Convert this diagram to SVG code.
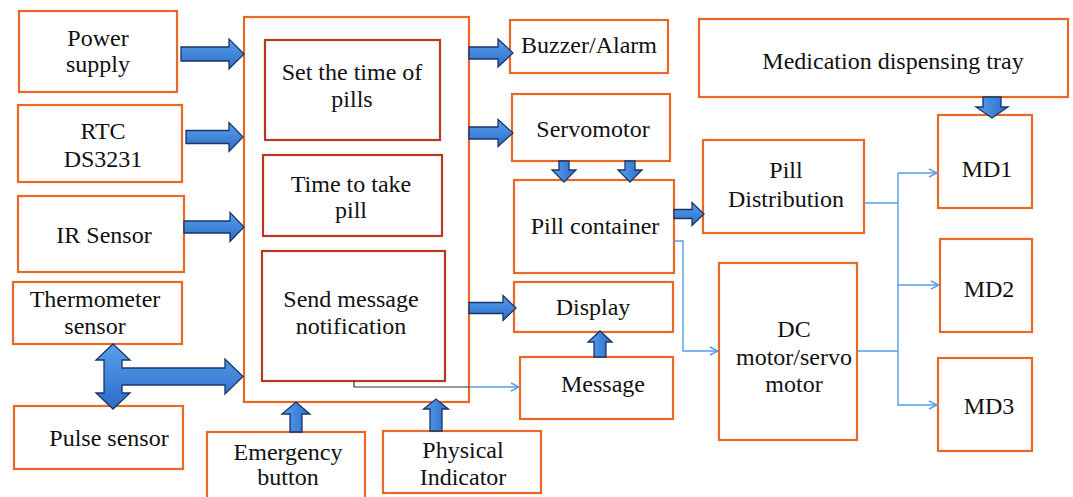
<svg xmlns="http://www.w3.org/2000/svg" width="1073" height="497" viewBox="0 0 1073 497">
<defs>
<linearGradient id="bg" x1="0" y1="0" x2="0" y2="1">
<stop offset="0" stop-color="#5AA0EC"/>
<stop offset="1" stop-color="#2B6CC8"/>
</linearGradient>
<linearGradient id="bgv" x1="0" y1="0" x2="1" y2="0">
<stop offset="0" stop-color="#5AA0EC"/>
<stop offset="1" stop-color="#2B6CC8"/>
</linearGradient>
<marker id="ah" viewBox="0 0 10 10" refX="9" refY="5" markerWidth="10" markerHeight="10" markerUnits="userSpaceOnUse" orient="auto">
<path d="M1,1 L9,5 L1,9" fill="none" stroke="#5B9BE6" stroke-width="1.4"/>
</marker>
</defs>
<style>
.box{fill:#fff;stroke:#E66A25;stroke-width:2.2}
.inner{fill:#fff;stroke:#B83A24;stroke-width:2.2}
.t{font-family:'Liberation Serif','DejaVu Serif',serif;font-size:24px;fill:#111;text-anchor:middle}
.ar{fill:url(#bg);stroke:#1B3566;stroke-width:1.3;stroke-linejoin:miter}
.av{fill:url(#bgv);stroke:#1B3566;stroke-width:1.3;stroke-linejoin:miter}
.ln{fill:none;stroke:#5B9BE6;stroke-width:1.4}
.lk{fill:none;stroke:#333;stroke-width:1.2}
</style>
<rect width="1073" height="497" fill="#fff"/>
<g class="t" font-family="Liberation Serif, serif" font-size="24" text-anchor="middle">
<g id="power"><rect class="box" x="19" y="11" width="158" height="81"/><text class="t" x="98" y="46">Power</text><text class="t" x="98" y="72">supply</text></g>
<g id="rtc"><rect class="box" x="18" y="105" width="164" height="77"/><text class="t" x="103" y="139">RTC</text><text class="t" x="103" y="167">DS3231</text></g>
<g id="ir"><rect class="box" x="18" y="196" width="166" height="76"/><text class="t" x="104" y="243">IR Sensor</text></g>
<g id="thermo"><rect class="box" x="13" y="282" width="169" height="62"/><text class="t" x="95" y="307">Thermometer</text><text class="t" x="95" y="334">sensor</text></g>
<g id="pulse"><rect class="box" x="14" y="406" width="169" height="63"/><text class="t" x="109" y="446">Pulse sensor</text></g>

<g id="controller"><rect class="box" x="244" y="17" width="225" height="385"/></g>
<g id="settime"><rect class="inner" x="265" y="40" width="175" height="100"/><text class="t" x="352" y="80">Set the time of</text><text class="t" x="352" y="107">pills</text></g>
<g id="timetake"><rect class="inner" x="263" y="155" width="179" height="81"/><text class="t" x="351" y="192">Time to take</text><text class="t" x="351" y="218">pill</text></g>
<g id="sendmsg"><rect class="inner" x="262" y="251" width="183" height="130"/><text class="t" x="351" y="307">Send message</text><text class="t" x="351" y="334">notification</text></g>

<g id="emergency"><rect class="box" x="207" y="432" width="158" height="70"/><text class="t" x="288" y="460">Emergency</text><text class="t" x="288" y="485">button</text></g>
<g id="physical"><rect class="box" x="383" y="431" width="158" height="62"/><text class="t" x="463" y="458">Physical</text><text class="t" x="463" y="485">Indicator</text></g>

<g id="buzzer"><rect class="box" x="510" y="20" width="158" height="53"/><text class="t" x="589" y="53">Buzzer/Alarm</text></g>
<g id="servo"><rect class="box" x="512" y="94" width="158" height="67"/><text class="t" x="593" y="137">Servomotor</text></g>
<g id="pillcontainer"><rect class="box" x="514" y="180" width="160" height="93"/><text class="t" x="595" y="234">Pill container</text></g>
<g id="display"><rect class="box" x="514" y="282" width="159" height="50"/><text class="t" x="593" y="315">Display</text></g>
<g id="message"><rect class="box" x="520" y="357" width="153" height="62"/><text class="t" x="603" y="392">Message</text></g>

<g id="tray"><rect class="box" x="699" y="19" width="369" height="78"/><text class="t" x="893" y="69">Medication dispensing tray</text></g>
<g id="pilldist"><rect class="box" x="703" y="140" width="161" height="93"/><text class="t" x="786" y="178">Pill</text><text class="t" x="786" y="207">Distribution</text></g>
<g id="dcmotor"><rect class="box" x="719" y="263" width="138" height="177"/><text class="t" x="794" y="337">DC</text><text class="t" x="794" y="365">motor/servo</text><text class="t" x="794" y="392">motor</text></g>
<g id="md1"><rect class="box" x="938" y="115" width="94" height="93"/><text class="t" x="987" y="177">MD1</text></g>
<g id="md2"><rect class="box" x="940" y="239" width="92" height="93"/><text class="t" x="989" y="297">MD2</text></g>
<g id="md3"><rect class="box" x="938" y="358" width="94" height="93"/><text class="t" x="989" y="414">MD3</text></g>
</g>
<g id="connectors">
<polygon class="ar" points="181,47 229,47 229,39 244,54 229,69 229,61 181,61"/>
<polygon class="ar" points="186,130.5 229,130.5 229,122.5 243,137 229,151.5 229,143.5 186,143.5"/>
<polygon class="ar" points="184,221 230,221 230,212.5 244,227 230,241.5 230,233 184,233"/>
<polygon class="ar" points="113,344 130,360 122,360 122,368 225,368 225,359 243,376.5 225,394 225,385 122,385 122,393 130,393 113,409 96,393 104,393 104,360 96,360"/>
<polygon class="ar" points="469,47 498,47 498,39 513,53 498,67 498,59 469,59"/>
<polygon class="ar" points="469,127 498,127 498,119.5 513,133 498,146.5 498,139 469,139"/>
<polygon class="ar" points="469,302.5 503,302.5 503,295.5 516,308 503,320.5 503,313.5 469,313.5"/>
<polygon class="ar" points="674,209.5 692,209.5 692,202.5 704,214 692,225.5 692,218.5 674,218.5"/>
<polygon class="av" points="559,161 569,161 569,170 576,170 564,182 552,170 559,170"/>
<polygon class="av" points="625,161 635,161 635,170 642,170 630,182 618,170 625,170"/>
<polygon class="av" points="983,97 1001,97 1001,107 1008,107 992,118 976,107 983,107"/>
<polygon class="av" points="594,357 606,357 606,342 612,342 600,331 588,342 594,342"/>
<polygon class="av" points="290,432 302,432 302,414 310,414 296,402 282,414 290,414"/>
<polygon class="av" points="430,431 442,431 442,409 448.5,409 436,399 423.5,409 430,409"/>
<path class="lk" d="M354,381 V387 H469"/>
<path class="ln" d="M469,387 H519" marker-end="url(#ah)"/>
<path class="ln" d="M674,241 H683 V351 H718" marker-end="url(#ah)"/>
<path class="ln" d="M864,203 H898"/>
<path class="ln" d="M857,351 H898"/>
<path class="ln" d="M898,173 V406"/>
<path class="ln" d="M898,173 H937" marker-end="url(#ah)"/>
<path class="ln" d="M898,285 H939" marker-end="url(#ah)"/>
<path class="ln" d="M898,405 H937" marker-end="url(#ah)"/>
</g>
</svg>
